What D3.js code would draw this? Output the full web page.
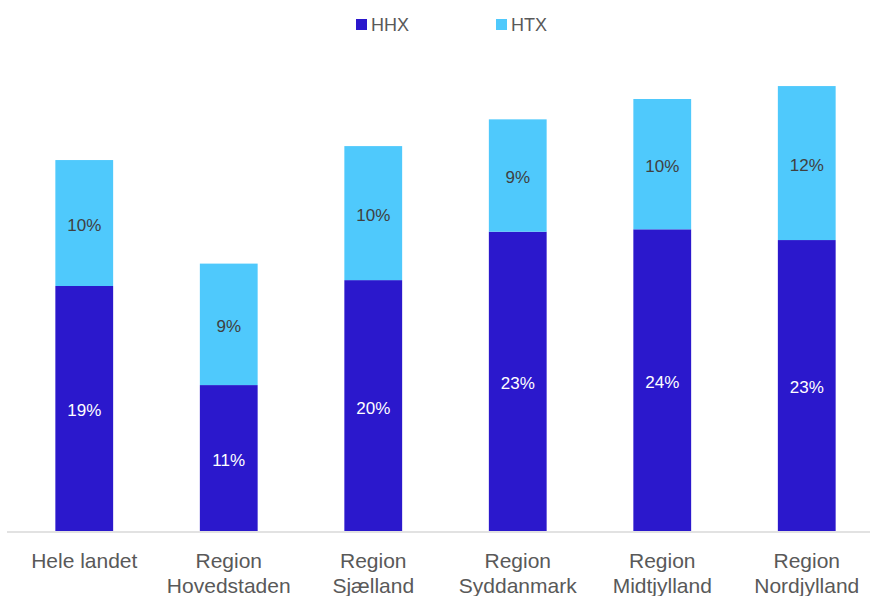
<!DOCTYPE html>
<html><head><meta charset="utf-8">
<script src="https://cdn.jsdelivr.net/npm/d3@7"></script>
<style>body{margin:0;background:#fff}</style>
</head><body>
<svg id="c" width="870" height="596"></svg>
<script>
const categories = [["Hele landet"],["Region","Hovedstaden"],["Region","Sjælland"],["Region","Syddanmark"],["Region","Midtjylland"],["Region","Nordjylland"]];
const hhx = [19.14, 11.4, 19.6, 23.38, 23.57, 22.73];
const htx = [9.84, 9.49, 10.47, 8.78, 10.18, 12.03];
const seriesNames = ["HHX","HTX"];
const colors = ["#2B18CC","#4FC9FC"];

const svg = d3.select("#c");
const keys = categories.map(c => c.join(" "));
const x = d3.scaleBand().domain(keys).range([12, 879]).paddingInner(0.6).paddingOuter(0.3);
const y = d3.scaleLinear().domain([0, 40]).range([531, 19]);

const rows = keys.map((k,i) => ({key:k, HHX:hhx[i], HTX:htx[i]}));
const stack = d3.stack().keys(seriesNames)(rows);

const font = "'Liberation Sans', Arial, sans-serif";

stack.forEach((s, si) => {
  const g = svg.append("g");
  g.selectAll("rect").data(s).join("rect")
    .attr("x", d => x(d.data.key))
    .attr("width", x.bandwidth())
    .attr("y", d => y(d[1]))
    .attr("height", d => y(d[0]) - y(d[1]))
    .attr("fill", colors[si]);
  g.selectAll("text").data(s).join("text")
    .attr("x", d => x(d.data.key) + x.bandwidth()/2)
    .attr("y", d => (y(d[0]) + y(d[1]))/2 + 2)
    .attr("dy", "0.35em")
    .attr("text-anchor", "middle")
    .attr("font-family", font)
    .attr("font-size", 17)
    .attr("fill", si === 0 ? "#ffffff" : "#404040")
    .text(d => Math.round(d[1]-d[0]) + "%");
});

// axis line
svg.append("line").attr("x1", 7).attr("x2", 870).attr("y1", y(0)+1).attr("y2", y(0)+1)
  .attr("stroke", "#d9d9d9").attr("stroke-width", 1.5);

// category labels
const xl = svg.append("g");
categories.forEach((c, i) => {
  const t = xl.append("text")
    .attr("x", x(keys[i]) + x.bandwidth()/2)
    .attr("y", 568)
    .attr("text-anchor", "middle")
    .attr("font-family", font)
    .attr("font-size", 21)
    .attr("fill", "#595959");
  c.forEach((line, li) => {
    t.append("tspan").attr("x", x(keys[i]) + x.bandwidth()/2).attr("dy", li === 0 ? 0 : 25).text(line);
  });
});

// legend
const legX = [356, 496];
seriesNames.forEach((n, i) => {
  svg.append("rect").attr("x", legX[i]).attr("y", 19).attr("width", 11).attr("height", 11).attr("fill", colors[i]);
  svg.append("text").attr("x", legX[i] + 15).attr("y", 31)
    .attr("font-family", font).attr("font-size", 18).attr("fill", "#595959").text(n);
});
</script>
</body></html>
